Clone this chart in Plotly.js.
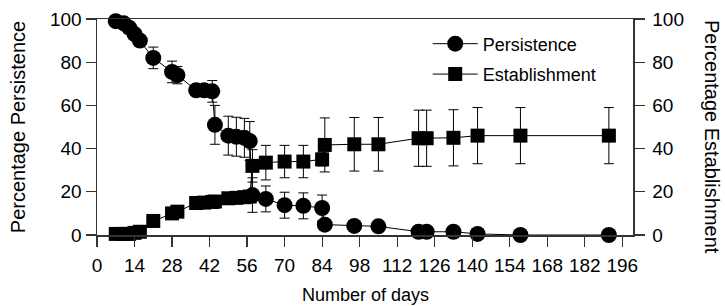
<!DOCTYPE html>
<html>
<head>
<meta charset="utf-8">
<script src="https://cdn.plot.ly/plotly-3.0.1.min.js"></script>
<style>html,body{margin:0;padding:0;background:#fff;}#chart{width:725px;height:306px;}</style>
</head>
<body>
<div id="chart"></div>
<script>
const days = [7, 10, 12, 14, 16, 21, 28, 30, 37, 40, 43, 44, 49, 52, 55, 57, 58, 63, 70, 77, 84, 85, 96, 105, 120, 123, 133, 142, 158, 191];
const persistence = [99, 98, 96, 93, 90, 82, 75.5, 74, 67, 67, 66.5, 51, 46, 45.5, 45, 43.5, 18.5, 16.7, 13.8, 13.5, 12.5, 4.8, 4.2, 4, 1.5, 1.5, 1.5, 0.5, 0, 0];
const persistenceErr = [0, 1, 1.5, 2, 2, 5, 5, 4, 1.5, 1.5, 5, 9, 9, 9, 9, 9, 8, 6, 6, 6, 6, 1, 0.5, 0.5, 0.5, 0.5, 0.5, 0, 0, 0];
const establishment = [0.5, 0.5, 0.5, 1, 1.5, 6.5, 10, 10.8, 14.8, 15, 15.3, 15.5, 17, 17.2, 17.5, 17.8, 32, 33.5, 34, 34, 35, 41.7, 42, 42, 44.8, 44.8, 45, 46, 46, 46];
const establishmentErr = [0, 0, 0, 0.5, 0.5, 1, 1, 1, 1, 1, 1, 1, 1, 1, 1, 1, 7.5, 8, 7.5, 7.5, 3, 12.5, 12.4, 12.4, 13, 13, 13, 13, 13, 13];
const xTicks = [0, 14, 28, 42, 56, 70, 84, 98, 112, 126, 140, 154, 168, 182, 196];
const yTicks = [0, 20, 40, 60, 80, 100];
const xTitle = 'Number of days';
const yTitleLeft = 'Percentage Persistence';
const yTitleRight = 'Percentage Establishment';

const FONT = 'Arial, "Liberation Sans", sans-serif';

const traces = [
  {
    x: days, y: persistence, name: 'Persistence', type: 'scatter', mode: 'lines+markers',
    legendgroup: 'p', cliponaxis: false,
    line: {color: '#000', width: 1},
    marker: {symbol: 'circle', size: 16, color: '#000'},
    error_y: {type: 'data', array: persistenceErr, visible: true, color: '#000', thickness: 1, width: 5}
  },
  {
    x: days, y: establishment, name: 'Establishment', type: 'scatter', mode: 'lines+markers',
    legendgroup: 'e', cliponaxis: false, yaxis: 'y2',
    line: {color: '#000', width: 1},
    marker: {symbol: 'square', size: 14, color: '#000'},
    error_y: {type: 'data', array: establishmentErr, visible: true, color: '#000', thickness: 1, width: 5}
  }
];

const axisCommon = {
  showgrid: false, zeroline: false, showline: true, linecolor: '#333', linewidth: 1.5,
  ticks: 'outside', ticklen: 10, tickwidth: 1.2, tickcolor: '#333',
  tickfont: {family: FONT, size: 19, color: '#000'}
};

const layout = {
  width: 725, height: 306,
  margin: {l: 97, r: 92, t: 19, b: 71},
  paper_bgcolor: '#fff', plot_bgcolor: '#fff',
  showlegend: true,
  legend: {x: 0.617, y: 0.97, xanchor: 'left', yanchor: 'top', bgcolor: 'rgba(0,0,0,0)', itemwidth: 45,
           font: {family: FONT, size: 18, color: '#000'}, traceorder: 'grouped', tracegroupgap: 4},
  xaxis: Object.assign({}, axisCommon, {
    range: [0, 200], tickvals: xTicks, ticktext: xTicks.map(String), mirror: true, ticklabelstandoff: 3
  }),
  yaxis: Object.assign({}, axisCommon, {
    range: [0, 100], tickvals: yTicks
  }),
  yaxis2: Object.assign({}, axisCommon, {
    range: [0, 100], tickvals: yTicks, overlaying: 'y', side: 'right', ticklabelstandoff: 4
  }),
  annotations: [
    {text: xTitle, xref: 'paper', yref: 'paper', x: 0.5, y: -0.278, xanchor: 'center', yanchor: 'middle',
     showarrow: false, font: {family: FONT, size: 18, color: '#000'}},
    {text: yTitleLeft, xref: 'paper', yref: 'paper', x: -0.147, y: 0.5, xanchor: 'center', yanchor: 'middle',
     textangle: -90, showarrow: false, font: {family: FONT, size: 20, color: '#000'}},
    {text: yTitleRight, xref: 'paper', yref: 'paper', x: 1.147, y: 0.455, xanchor: 'center', yanchor: 'middle',
     textangle: 90, showarrow: false, font: {family: FONT, size: 20, color: '#000'}}
  ]
};

Plotly.newPlot('chart', traces, layout, {displayModeBar: false, staticPlot: true});
</script>
</body>
</html>
